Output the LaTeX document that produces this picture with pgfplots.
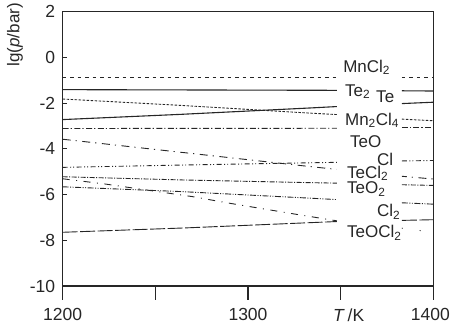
\documentclass[border=0pt]{standalone}
\usepackage{pgfplots}
\pgfplotsset{compat=1.18}
\usepackage{fontspec}
\setmainfont{Liberation Sans}
\newcommand{\lbl}{\fontsize{17}{20}\selectfont}
\begin{document}
\begin{tikzpicture}
\path[use as bounding box] (-62.7pt,-42pt) rectangle (388.3pt,286pt);
\begin{axis}[
  at={(0pt,0pt)}, anchor=south west,
  scale only axis, width=370.6pt, height=274.3pt,
  xmin=1200, xmax=1400, ymin=-10, ymax=2,
  clip=false,
  axis line style={line width=1.1pt, black!85},
  xtick={1200,1250,1300,1350,1400},
  xticklabels={1200,,1300,{\hspace*{16pt}\textit{T}\,/K},{\hspace*{-6pt}1400}},
  ytick={-10,-8,-6,-4,-2,0,2},
  yticklabels={-10,-8,-6,-4,-2,0,2},
  xtick pos=bottom, ytick pos=left,
  tick align=outside,
  major tick length=14pt,
  xtick style={line width=1.1pt, black!85},
  ytick style={/pgfplots/major tick length=4pt, xshift=4pt, line width=1.1pt, black!85},
  yticklabel style={xshift=10pt},
  xticklabel style={yshift=-5pt},
  ticklabel style={font=\fontsize{17.5}{21}\selectfont, text=black!85},
  every axis plot/.append style={black!85, line width=0.9pt, line cap=butt},
]
% MnCl2
\addplot[dash pattern=on 3.5pt off 4pt] coordinates {(1200,-0.86)(1348,-0.86)};
\addplot[dash pattern=on 3.5pt off 4pt] coordinates {(1383,-0.86)(1400,-0.86)};
% Te2
\addplot[line width=1.1pt] coordinates {(1200,-1.41)(1348,-1.44)};
\addplot[line width=1.1pt] coordinates {(1383,-1.46)(1400,-1.47)};
% Te
\addplot[line width=1.1pt] coordinates {(1200,-2.72)(1264,-2.49)(1334,-2.21)(1348,-2.15)};
\addplot[line width=1.1pt] coordinates {(1383,-2.02)(1400,-1.96)};
% Mn2Cl4
\addplot[dash pattern=on 2.5pt off 1.5pt] coordinates {(1200,-1.82)(1264,-2.10)(1334,-2.44)(1348,-2.50)};
\addplot[dash pattern=on 2.5pt off 1.5pt] coordinates {(1383,-2.70)(1400,-2.77)};
% TeO
\addplot[dash pattern=on 6pt off 2pt on 1.2pt off 2.5pt] coordinates {(1200,-3.11)(1348,-3.10)};
\addplot[dash pattern=on 6pt off 2pt on 1.2pt off 2.5pt] coordinates {(1383,-3.08)(1400,-3.08)};
% descending from -3.6
\addplot[dash pattern=on 8pt off 5pt on 1.2pt off 5.5pt] coordinates {(1200,-3.58)(1266,-4.17)(1334,-4.78)(1348,-4.90)};
\addplot[dash pattern=on 8pt off 5pt on 1.2pt off 5.5pt, dash phase=3pt] coordinates {(1383,-5.20)(1400,-5.32)};
% Cl
\addplot[dash pattern=on 5pt off 2.5pt on 1pt off 2pt on 1pt off 2.5pt] coordinates {(1200,-4.81)(1264,-4.71)(1334,-4.61)(1348,-4.59)};
\addplot[dash pattern=on 5pt off 2.5pt on 1pt off 2pt on 1pt off 2.5pt] coordinates {(1383,-4.53)(1400,-4.51)};
% TeO2
\addplot[dash pattern=on 5pt off 1.5pt on 1pt off 1.5pt] coordinates {(1200,-5.22)(1264,-5.36)(1334,-5.48)(1348,-5.50)};
\addplot[dash pattern=on 5pt off 1.5pt on 1pt off 1.5pt] coordinates {(1383,-5.57)(1400,-5.60)};
% dash-dot-dot
\addplot[dash pattern=on 6pt off 1.5pt on 1pt off 1.5pt on 1pt off 1.5pt] coordinates {(1200,-5.66)(1264,-5.87)(1334,-6.16)(1348,-6.22)};
\addplot[dash pattern=on 6pt off 1.5pt on 1pt off 1.5pt on 1pt off 1.5pt] coordinates {(1383,-6.36)(1400,-6.42)};
% sparse descending
\addplot[dash pattern=on 7pt off 6.5pt on 1pt off 6.5pt] coordinates {(1200,-5.31)(1223,-5.54)(1270,-6.09)(1290,-6.38)(1325,-6.85)(1348,-7.15)};
\addplot[dash pattern=on 1pt off 17pt] coordinates {(1383,-7.47)(1400,-7.65)};
% long dash rising
\addplot[dash pattern=on 15pt off 2.5pt] coordinates {(1200,-7.65)(1266,-7.46)(1348,-7.18)};
\addplot[dash pattern=on 15pt off 2.5pt] coordinates {(1383,-7.13)(1400,-7.10)};
% labels
\begin{scope}[every node/.style={anchor=base west, inner sep=0pt, font=\lbl, text=black!85}]
\node at (axis cs:1351.3,-0.64) {MnCl\textsubscript{2}};
\node at (axis cs:1352.3,-1.69) {Te\textsubscript{2}};
\node at (axis cs:1369.1,-1.99) {Te};
\node at (axis cs:1352.3,-2.96) {Mn\textsubscript{2}Cl\textsubscript{4}};
\node at (axis cs:1355.0,-3.96) {TeO};
\node at (axis cs:1369.6,-4.71) {Cl};
\node at (axis cs:1353.4,-5.29) {TeCl\textsubscript{2}};
\node at (axis cs:1353.4,-5.97) {TeO\textsubscript{2}};
\node at (axis cs:1369.6,-6.97) {Cl\textsubscript{2}};
\node at (axis cs:1353.4,-7.90) {TeOCl\textsubscript{2}};
\end{scope}
\end{axis}
\node[rotate=90, anchor=east, inner sep=0pt, font=\fontsize{17}{20}\selectfont, text=black!85] at (-47.7pt,283pt) {lg(\textit{p}/bar)};
\end{tikzpicture}
\end{document}
